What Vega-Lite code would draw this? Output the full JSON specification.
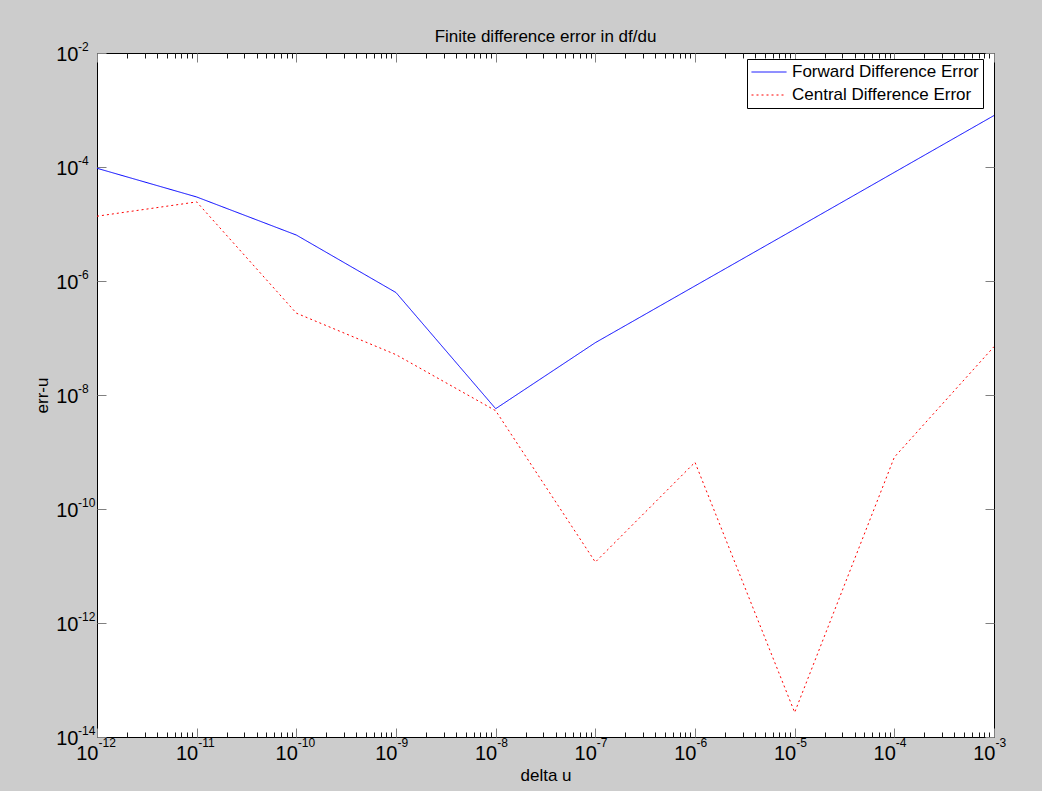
{
  "$schema": "https://vega.github.io/schema/vega-lite/v6.json",
  "width": 897,
  "height": 684,
  "autosize": {"type": "none"},
  "padding": {"left": 97, "top": 53, "right": 48, "bottom": 54},
  "background": "#cccccc",
  "config": {
    "view": {"fill": "#ffffff", "stroke": "#000000", "strokeWidth": 1},
    "font": "Liberation Sans",
    "axis": {"grid": false, "minExtent": 0, "labelColor": "#000000", "titleColor": "#000000", "labelFont": "Liberation Sans", "titleFont": "Liberation Sans", "titleFontWeight": "normal", "labelFlush": false, "labelOverlap": false, "labelBound": false}
  },
  "title": {"text": "Finite difference error in df/du", "fontSize": 17, "fontWeight": "normal", "font": "Liberation Sans", "color": "#000000", "anchor": "middle", "offset": 12, "dy": 31, "baseline": "alphabetic"},
  "data": {
    "values": [
      {"du": 1e-12, "err": 9.5e-5, "series": "Forward Difference Error"},
      {"du": 1e-11, "err": 2.98e-5, "series": "Forward Difference Error"},
      {"du": 1e-10, "err": 6.4e-6, "series": "Forward Difference Error"},
      {"du": 1e-9, "err": 6.27e-7, "series": "Forward Difference Error"},
      {"du": 1e-8, "err": 5.75e-9, "series": "Forward Difference Error"},
      {"du": 1e-7, "err": 8.28e-8, "series": "Forward Difference Error"},
      {"du": 1e-6, "err": 8.2e-7, "series": "Forward Difference Error"},
      {"du": 1e-5, "err": 8.1e-6, "series": "Forward Difference Error"},
      {"du": 1e-4, "err": 8.05e-5, "series": "Forward Difference Error"},
      {"du": 1e-3, "err": 8.0e-4, "series": "Forward Difference Error"},
      {"du": 1e-12, "err": 1.37e-5, "series": "Central Difference Error"},
      {"du": 1e-11, "err": 2.44e-5, "series": "Central Difference Error"},
      {"du": 1e-10, "err": 2.73e-7, "series": "Central Difference Error"},
      {"du": 1e-9, "err": 5.1e-8, "series": "Central Difference Error"},
      {"du": 1e-8, "err": 5.3e-9, "series": "Central Difference Error"},
      {"du": 1e-7, "err": 1.17e-11, "series": "Central Difference Error"},
      {"du": 1e-6, "err": 6.6e-10, "series": "Central Difference Error"},
      {"du": 1e-5, "err": 2.7e-14, "series": "Central Difference Error"},
      {"du": 1e-4, "err": 8.1e-10, "series": "Central Difference Error"},
      {"du": 1e-3, "err": 7.05e-8, "series": "Central Difference Error"}
    ]
  },
  "resolve": {"axis": {"x": "independent", "y": "independent"}},
  "layer": [
    {
      "mark": {"type": "line", "strokeWidth": 1, "clip": true},
      "encoding": {
        "x": {"field": "du", "type": "quantitative", "scale": {"type": "log", "domain": [1e-12, 1e-3], "nice": false},
          "axis": {"orient": "bottom", "values": [1e-12, 1e-11, 1e-10, 1e-9, 1e-8, 1e-7, 1e-6, 1e-5, 1e-4, 1e-3], "labelExpr": "'10'", "labelAlign": "right", "labelBaseline": "top", "labelOffset": 1, "labelPadding": 6, "labelFontSize": 20, "ticks": false, "domain": false, "title": null}},
        "y": {"field": "err", "type": "quantitative", "scale": {"type": "log", "domain": [1e-14, 1e-2], "nice": false},
          "axis": {"orient": "left", "values": [1e-14, 1e-12, 1e-10, 1e-8, 1e-6, 1e-4, 1e-2], "labelExpr": "'10'", "labelAlign": "right", "labelBaseline": "middle", "labelOffset": 1, "labelPadding": 19, "labelFontSize": 20, "ticks": false, "domain": false, "title": null}},
        "color": {"field": "series", "type": "nominal",
          "scale": {"domain": ["Forward Difference Error", "Central Difference Error"], "range": ["#0000ff", "#ff0000"]},
          "legend": {"title": null, "orient": "none", "legendX": 650, "legendY": 6, "fillColor": "#ffffff", "strokeColor": "#000000", "padding": 4, "labelFontSize": 17, "labelFont": "Liberation Sans", "labelColor": "#000000", "labelLimit": 400, "symbolType": "stroke", "symbolSize": 1225, "symbolStrokeWidth": 1, "labelOffset": 5, "clipHeight": 18, "rowPadding": 5, "cornerRadius": 0}},
        "strokeDash": {"field": "series", "type": "nominal",
          "scale": {"domain": ["Forward Difference Error", "Central Difference Error"], "range": [[1, 0], [2, 3]]},
          "legend": {"title": null, "orient": "none", "legendX": 650, "legendY": 6, "fillColor": "#ffffff", "strokeColor": "#000000", "padding": 4, "labelFontSize": 17, "labelFont": "Liberation Sans", "labelColor": "#000000", "labelLimit": 400, "symbolType": "stroke", "symbolSize": 1225, "symbolStrokeWidth": 1, "labelOffset": 5, "clipHeight": 18, "rowPadding": 5, "cornerRadius": 0}}
      }
    },
    {
      "mark": {"type": "point", "opacity": 0},
      "encoding": {
        "x": {"field": "du", "type": "quantitative", "scale": {"type": "log", "domain": [1e-12, 1e-3], "nice": false},
          "axis": {"orient": "bottom", "values": [1e-12, 1e-11, 1e-10, 1e-9, 1e-8, 1e-7, 1e-6, 1e-5, 1e-4, 1e-3], "labelExpr": "'' + round(log(datum.value) / LN10)", "labelAlign": "left", "labelBaseline": "top", "labelOffset": 1, "labelPadding": 0, "labelFontSize": 12, "ticks": false, "domain": false, "title": null}},
        "y": {"field": "err", "type": "quantitative", "scale": {"type": "log", "domain": [1e-14, 1e-2], "nice": false},
          "axis": {"orient": "left", "values": [1e-14, 1e-12, 1e-10, 1e-8, 1e-6, 1e-4, 1e-2], "labelExpr": "'' + round(log(datum.value) / LN10)", "labelAlign": "left", "labelBaseline": "middle", "labelOffset": -7, "labelPadding": 19.5, "labelFontSize": 12, "ticks": false, "domain": false, "title": null}}
      }
    },
    {
      "mark": {"type": "point", "opacity": 0},
      "encoding": {
        "x": {"field": "du", "type": "quantitative", "scale": {"type": "log", "domain": [1e-12, 1e-3], "nice": false},
          "axis": {"orient": "bottom", "values": [1e-12, 1e-11, 1e-10, 1e-9, 1e-8, 1e-7, 1e-6, 1e-5, 1e-4, 1e-3], "labels": false, "ticks": true, "tickSize": -9, "tickColor": "#808080", "tickWidth": 1, "domain": false, "title": "delta u", "titleFontSize": 17, "titlePadding": 30}},
        "y": {"field": "err", "type": "quantitative", "scale": {"type": "log", "domain": [1e-14, 1e-2], "nice": false},
          "axis": {"orient": "left", "values": [1e-14, 1e-12, 1e-10, 1e-8, 1e-6, 1e-4, 1e-2], "labels": false, "ticks": true, "tickSize": -9, "tickColor": "#808080", "tickWidth": 1, "domain": false, "title": "err-u", "titleFontSize": 17, "titlePadding": 45}}
      }
    },
    {
      "mark": {"type": "point", "opacity": 0},
      "encoding": {
        "x": {"field": "du", "type": "quantitative", "scale": {"type": "log", "domain": [1e-12, 1e-3], "nice": false},
          "axis": {"orient": "bottom", "values": [2e-12, 3e-12, 4e-12, 5e-12, 6e-12, 7e-12, 8e-12, 9e-12, 2e-11, 3e-11, 4e-11, 5e-11, 6e-11, 7e-11, 8e-11, 9e-11, 2e-10, 3e-10, 4e-10, 5e-10, 6e-10, 7e-10, 8e-10, 9e-10, 2e-9, 3e-9, 4e-9, 5e-9, 6e-9, 7e-9, 8e-9, 9e-9, 2e-8, 3e-8, 4e-8, 5e-8, 6e-8, 7e-8, 8e-8, 9e-8, 2e-7, 3e-7, 4e-7, 5e-7, 6e-7, 7e-7, 8e-7, 9e-7, 2e-6, 3e-6, 4e-6, 5e-6, 6e-6, 7e-6, 8e-6, 9e-6, 2e-5, 3e-5, 4e-5, 5e-5, 6e-5, 7e-5, 8e-5, 9e-5, 2e-4, 3e-4, 4e-4, 5e-4, 6e-4, 7e-4, 8e-4, 9e-4], "labels": false, "ticks": true, "tickSize": -5, "tickColor": "#1a1a1a", "tickWidth": 1, "domain": false, "title": null}},
        "y": {"field": "err", "type": "quantitative", "scale": {"type": "log", "domain": [1e-14, 1e-2], "nice": false},
          "axis": {"orient": "right", "values": [1e-14, 1e-12, 1e-10, 1e-8, 1e-6, 1e-4, 1e-2], "labels": false, "ticks": true, "tickSize": -9, "tickColor": "#808080", "tickWidth": 1, "domain": false, "title": null}}
      }
    },
    {
      "mark": {"type": "point", "opacity": 0},
      "encoding": {
        "x": {"field": "du", "type": "quantitative", "scale": {"type": "log", "domain": [1e-12, 1e-3], "nice": false},
          "axis": {"orient": "top", "values": [1e-12, 1e-11, 1e-10, 1e-9, 1e-8, 1e-7, 1e-6, 1e-5, 1e-4, 1e-3], "labels": false, "ticks": true, "tickSize": -9, "tickColor": "#808080", "tickWidth": 1, "domain": false, "title": null}},
        "y": {"field": "err", "type": "quantitative", "scale": {"type": "log", "domain": [1e-14, 1e-2], "nice": false}, "axis": null}
      }
    },
    {
      "mark": {"type": "point", "opacity": 0},
      "encoding": {
        "x": {"field": "du", "type": "quantitative", "scale": {"type": "log", "domain": [1e-12, 1e-3], "nice": false},
          "axis": {"orient": "top", "values": [2e-12, 3e-12, 4e-12, 5e-12, 6e-12, 7e-12, 8e-12, 9e-12, 2e-11, 3e-11, 4e-11, 5e-11, 6e-11, 7e-11, 8e-11, 9e-11, 2e-10, 3e-10, 4e-10, 5e-10, 6e-10, 7e-10, 8e-10, 9e-10, 2e-9, 3e-9, 4e-9, 5e-9, 6e-9, 7e-9, 8e-9, 9e-9, 2e-8, 3e-8, 4e-8, 5e-8, 6e-8, 7e-8, 8e-8, 9e-8, 2e-7, 3e-7, 4e-7, 5e-7, 6e-7, 7e-7, 8e-7, 9e-7, 2e-6, 3e-6, 4e-6, 5e-6, 6e-6, 7e-6, 8e-6, 9e-6, 2e-5, 3e-5, 4e-5, 5e-5, 6e-5, 7e-5, 8e-5, 9e-5, 2e-4, 3e-4, 4e-4, 5e-4, 6e-4, 7e-4, 8e-4, 9e-4], "labels": false, "ticks": true, "tickSize": -5, "tickColor": "#1a1a1a", "tickWidth": 1, "domain": false, "title": null}},
        "y": {"field": "err", "type": "quantitative", "scale": {"type": "log", "domain": [1e-14, 1e-2], "nice": false}, "axis": null}
      }
    }
  ]
}
